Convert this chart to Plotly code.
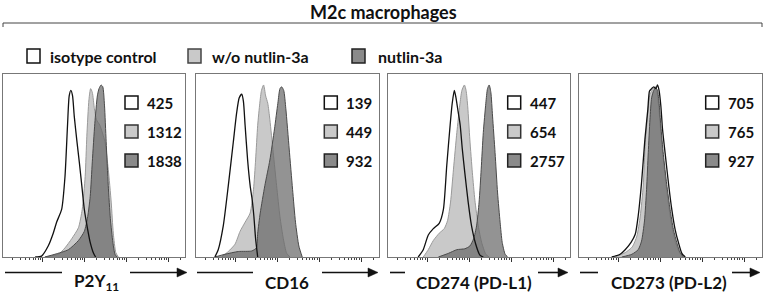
import plotly.graph_objects as go

# ---------------- data (log10 fluorescence, % of max) ----------------
p2y11_iso_log = [1.83, 1.98, 2.14, 2.26, 2.34, 2.46, 2.54, 2.60, 2.64, 2.68, 2.72, 2.76, 2.82, 2.88, 2.94, 3.00, 3.08, 3.14, 3.22, 3.27]
p2y11_iso_pct = [0, 0.5, 6, 13, 19, 26, 44, 72, 88, 91, 88, 77, 64, 52, 39, 26, 15, 8, 2, 0]
p2y11_wo_log = [2.06, 2.38, 2.54, 2.70, 2.86, 2.95, 3.02, 3.06, 3.11, 3.15, 3.19, 3.24, 3.29, 3.37, 3.49, 3.57, 3.64, 3.69, 3.75, 3.81]
p2y11_wo_pct = [0, 1.5, 5, 10, 16, 26, 44, 66, 86, 92, 90, 81, 75, 72, 63, 48, 30, 13, 2.4, 0]
p2y11_nut_log = [2.06, 2.30, 2.62, 2.86, 3.00, 3.08, 3.14, 3.19, 3.25, 3.31, 3.35, 3.40, 3.44, 3.48, 3.52, 3.57, 3.62, 3.68, 3.73, 3.78]
p2y11_nut_pct = [0, 1.5, 4, 9, 14, 22, 33, 52, 73, 88, 92, 94, 93, 83, 63, 39, 21, 8, 1.5, 0]

cd16_iso_log = [1.52, 1.60, 1.72, 1.84, 1.96, 2.04, 2.10, 2.16, 2.20, 2.24, 2.30, 2.36, 2.41, 2.45, 2.49, 2.54]
cd16_iso_pct = [0, 4, 17, 39, 63, 79, 87, 89, 85, 72, 53, 39, 31, 22, 10, 0]
cd16_wo_log = [1.68, 1.84, 2.00, 2.12, 2.24, 2.36, 2.44, 2.49, 2.54, 2.59, 2.63, 2.68, 2.73, 2.78, 2.83, 2.91, 2.99, 3.07, 3.15, 3.23, 3.31]
cd16_wo_pct = [0, 3, 7, 14, 19, 24, 37, 53, 72, 84, 91, 94, 88, 84, 75, 57, 39, 22, 10, 2, 0]
cd16_nut_log = [1.52, 1.76, 2.08, 2.40, 2.51, 2.54, 2.60, 2.71, 2.83, 2.94, 3.02, 3.07, 3.11, 3.16, 3.21, 3.29, 3.37, 3.44, 3.52, 3.60]
cd16_nut_pct = [0, 1.5, 3, 3.3, 5, 13, 24, 39, 53, 70, 84, 92, 93, 91, 81, 59, 37, 19, 6, 0]

cd274_iso_log = [1.79, 1.91, 2.03, 2.15, 2.29, 2.39, 2.47, 2.55, 2.60, 2.65, 2.69, 2.73, 2.79, 2.84, 2.90, 2.98, 3.06, 3.16, 3.26, 3.34]
cd274_iso_pct = [0, 4, 12, 15.5, 18.4, 26, 50, 72, 84, 91, 87, 81, 72, 59, 46, 30, 17, 7, 1, 0]
cd274_wo_log = [1.91, 2.03, 2.15, 2.29, 2.41, 2.49, 2.56, 2.63, 2.71, 2.78, 2.83, 2.89, 2.93, 2.97, 3.02, 3.08, 3.14, 3.22, 3.30, 3.40, 3.48]
cd274_wo_pct = [0, 4, 9, 13, 15.5, 20, 30, 48, 68, 83, 91, 94, 91, 82, 64, 46, 31, 17, 8, 1.5, 0]
cd274_nut_log = [2.27, 2.51, 2.71, 2.90, 3.02, 3.11, 3.18, 3.24, 3.29, 3.34, 3.40, 3.44, 3.48, 3.52, 3.56, 3.62, 3.68, 3.74, 3.79, 3.86, 3.92]
cd274_nut_pct = [0, 2, 4, 4.5, 6, 10, 17, 30, 48, 68, 84, 92, 94, 90, 77, 57, 35, 19, 8, 1.5, 0]

cd273_iso_log = [1.85, 2.05, 2.17, 2.31, 2.41, 2.48, 2.56, 2.64, 2.71, 2.75, 2.80, 2.85, 2.90, 2.94, 2.98, 3.02, 3.06, 3.12, 3.20, 3.28, 3.36, 3.44, 3.52, 3.60]
cd273_iso_pct = [0, 1.5, 4, 8, 12.4, 22.4, 40.6, 64.3, 80.7, 90.7, 92, 93, 92, 94, 90.7, 82.5, 69.8, 57, 40.6, 26, 15, 7.8, 2, 0]
cd273_wo_log = [1.93, 2.17, 2.34, 2.45, 2.53, 2.60, 2.65, 2.71, 2.76, 2.84, 2.90, 2.94, 2.98, 3.04, 3.12, 3.20, 3.28, 3.37, 3.47, 3.55]
cd273_wo_pct = [0, 2.4, 5.5, 11.5, 22.4, 38.8, 62.5, 78.9, 88.9, 92, 93, 88, 79, 62.5, 44, 28.8, 17, 7.8, 2, 0]
cd273_nut_log = [2.09, 2.33, 2.48, 2.56, 2.63, 2.68, 2.72, 2.76, 2.80, 2.85, 2.90, 2.94, 2.98, 3.02, 3.08, 3.16, 3.24, 3.32, 3.40, 3.48, 3.56]
cd273_nut_pct = [0, 1.5, 4, 8.7, 19.7, 37, 57, 75, 87, 91, 92.5, 91, 84, 71.6, 56, 39.7, 26, 15, 7.8, 2.4, 0]

marker_labels = ["P2Y<sub>11</sub>", "CD16", "CD274 (PD-L1)", "CD273 (PD-L2)"]
mfi_iso = [425, 139, 447, 705]
mfi_wo = [1312, 449, 654, 765]
mfi_nut = [1838, 932, 2757, 927]
legend_names = ["isotype control", "w/o nutlin-3a", "nutlin-3a"]
title_text = "M2c macrophages"

# ---------------- styling / layout ----------------
W, H = 765, 296
FONT = "Lato"
iso_line = "#111111"
wo_fill, wo_line = "#c9c9c9", "#9a9a9a"
nut_fill, nut_line = "rgba(105,105,105,0.72)", "#4a4a4a"

panels = [
    (p2y11_iso_log, p2y11_iso_pct, p2y11_wo_log, p2y11_wo_pct, p2y11_nut_log, p2y11_nut_pct),
    (cd16_iso_log, cd16_iso_pct, cd16_wo_log, cd16_wo_pct, cd16_nut_log, cd16_nut_pct),
    (cd274_iso_log, cd274_iso_pct, cd274_wo_log, cd274_wo_pct, cd274_nut_log, cd274_nut_pct),
    (cd273_iso_log, cd273_iso_pct, cd273_wo_log, cd273_wo_pct, cd273_nut_log, cd273_nut_pct),
]
panel_px = [(3.3, 185), (196, 379), (388, 570), (579, 762)]
box_off = [121.7, 128.3, 119.7, 126.7]
TOP, BOT = 74, 257
DEC = 42.0  # px per decade
X0 = 1.071

def fx(x):
    return x / W

def fy(y):
    return 1 - y / H

major = [1e2, 1e3, 1e4, 1e5]
minor = []
for e in range(1, 6):
    for k in range(2, 10):
        minor.append(k * 10 ** e)

fig = go.Figure()
shapes = []
annotations = []
layout_axes = {}

for i, (data, (L, R)) in enumerate(zip(panels, panel_px)):
    n = i + 1
    xa = "x" if n == 1 else f"x{n}"
    ya = "y" if n == 1 else f"y{n}"
    iso_l, iso_p, wo_l, wo_p, nut_l, nut_p = data
    fig.add_trace(go.Scatter(x=[10 ** v for v in wo_l], y=wo_p, mode="lines", fill="tozeroy",
                             fillcolor=wo_fill, line=dict(color=wo_line, width=1, shape="spline", smoothing=0.6),
                             xaxis=xa, yaxis=ya, hoverinfo="skip", showlegend=False))
    fig.add_trace(go.Scatter(x=[10 ** v for v in nut_l], y=nut_p, mode="lines", fill="tozeroy",
                             fillcolor=nut_fill, line=dict(color=nut_line, width=1, shape="spline", smoothing=0.6),
                             xaxis=xa, yaxis=ya, hoverinfo="skip", showlegend=False))
    fig.add_trace(go.Scatter(x=[10 ** v for v in iso_l], y=iso_p, mode="lines",
                             line=dict(color=iso_line, width=1.3, shape="spline", smoothing=0.6),
                             xaxis=xa, yaxis=ya, hoverinfo="skip", showlegend=False))
    key = "" if n == 1 else str(n)
    layout_axes["xaxis" + key] = dict(
        domain=[fx(L), fx(R)], type="log", range=[X0, X0 + (R - L) / DEC], anchor=ya,
        showline=True, mirror=True, linecolor="#777777", linewidth=1, showgrid=False, zeroline=False,
        tickmode="array", tickvals=major, ticks="outside", ticklen=4, tickcolor="#333333", tickwidth=1,
        showticklabels=False,
        minor=dict(tickvals=minor, ticks="outside", ticklen=2, tickcolor="#444444", tickwidth=1),
        fixedrange=True)
    layout_axes["yaxis" + key] = dict(
        domain=[fy(BOT), fy(TOP)], range=[0, 100], anchor=xa,
        showline=True, mirror=True, linecolor="#777777", linewidth=1, showgrid=False, zeroline=False,
        showticklabels=False, ticks="", fixedrange=True)

    # in-panel MFI legend
    bx = L + box_off[i]
    for j, (val, fc, lc) in enumerate([(mfi_iso[i], "white", "#111111"),
                                       (mfi_wo[i], wo_fill, "#333333"),
                                       (mfi_nut[i], "#8a8a8a", "#222222")]):
        cy = 102.5 + j * 29
        shapes.append(dict(type="rect", xref="paper", yref="paper",
                           x0=fx(bx), x1=fx(bx + 13), y0=fy(cy + 6.5), y1=fy(cy - 6.5),
                           fillcolor=fc, line=dict(color=lc, width=1.5)))
        annotations.append(dict(x=fx(bx + 20), y=fy(cy), xref="paper", yref="paper",
                                text=str(val), showarrow=False, xanchor="left", yanchor="middle",
                                font=dict(family=FONT, size=15, color="#111111", weight="bold")))

label_cx = [96, 286.5, 473.5, 669]
left_seg = [(5, 62), (197, 253), (390, 405), (580, 598)]
right_seg = [(130, 187), (322, 378), (538, 568), (732, 760)]
ARROW_Y = 272.5
for i in range(4):
    annotations.append(dict(x=fx(label_cx[i]), y=fy(282), xref="paper", yref="paper",
                            text=marker_labels[i], showarrow=False, xanchor="center", yanchor="middle",
                            font=dict(family=FONT, size=17, color="#111111", weight="bold")))
    a, b = left_seg[i]
    shapes.append(dict(type="line", xref="paper", yref="paper", x0=fx(a), x1=fx(b),
                       y0=fy(ARROW_Y), y1=fy(ARROW_Y), line=dict(color="#111111", width=1.6)))
    a, b = right_seg[i]
    shapes.append(dict(type="line", xref="paper", yref="paper", x0=fx(a), x1=fx(b - 6),
                       y0=fy(ARROW_Y), y1=fy(ARROW_Y), line=dict(color="#111111", width=1.6)))
    path = (f"M {fx(b)} {fy(ARROW_Y)} L {fx(b - 10)} {fy(ARROW_Y - 4.5)} "
            f"L {fx(b - 10)} {fy(ARROW_Y + 4.5)} Z")
    shapes.append(dict(type="path", xref="paper", yref="paper", path=path,
                       fillcolor="#111111", line=dict(color="#111111", width=0.5)))

# title and bracket
annotations.append(dict(x=fx(383), y=fy(12), xref="paper", yref="paper", text=title_text,
                        showarrow=False, xanchor="center", yanchor="middle",
                        font=dict(family=FONT, size=18, color="#111111", weight="bold")))
shapes.append(dict(type="path", xref="paper", yref="paper",
                   path=f"M {fx(3)} {fy(27)} L {fx(3)} {fy(23)} L {fx(762)} {fy(23)} L {fx(762)} {fy(27)}",
                   line=dict(color="#444444", width=1)))

# top legend
leg_box_x = [27, 188, 352]
leg_text_x = [48, 210, 376]
leg_fill = ["white", wo_fill, "#8a8a8a"]
leg_line = ["#111111", "#444444", "#222222"]
LEG_Y = 56
for k in range(3):
    shapes.append(dict(type="rect", xref="paper", yref="paper",
                       x0=fx(leg_box_x[k]), x1=fx(leg_box_x[k] + 13),
                       y0=fy(LEG_Y + 7), y1=fy(LEG_Y - 7),
                       fillcolor=leg_fill[k], line=dict(color=leg_line[k], width=1.5)))
    annotations.append(dict(x=fx(leg_text_x[k]), y=fy(LEG_Y), xref="paper", yref="paper",
                            text=legend_names[k], showarrow=False, xanchor="left", yanchor="middle",
                            font=dict(family=FONT, size=16, color="#111111", weight="bold")))

fig.update_layout(width=W, height=H, margin=dict(l=0, r=0, t=0, b=0),
                  paper_bgcolor="white", plot_bgcolor="white",
                  shapes=shapes, annotations=annotations, showlegend=False, **layout_axes)

fig.write_html("out.html", config={"displayModeBar": False},
               post_script="document.body.style.margin='0';document.body.style.padding='0';document.body.style.overflow='hidden';")
